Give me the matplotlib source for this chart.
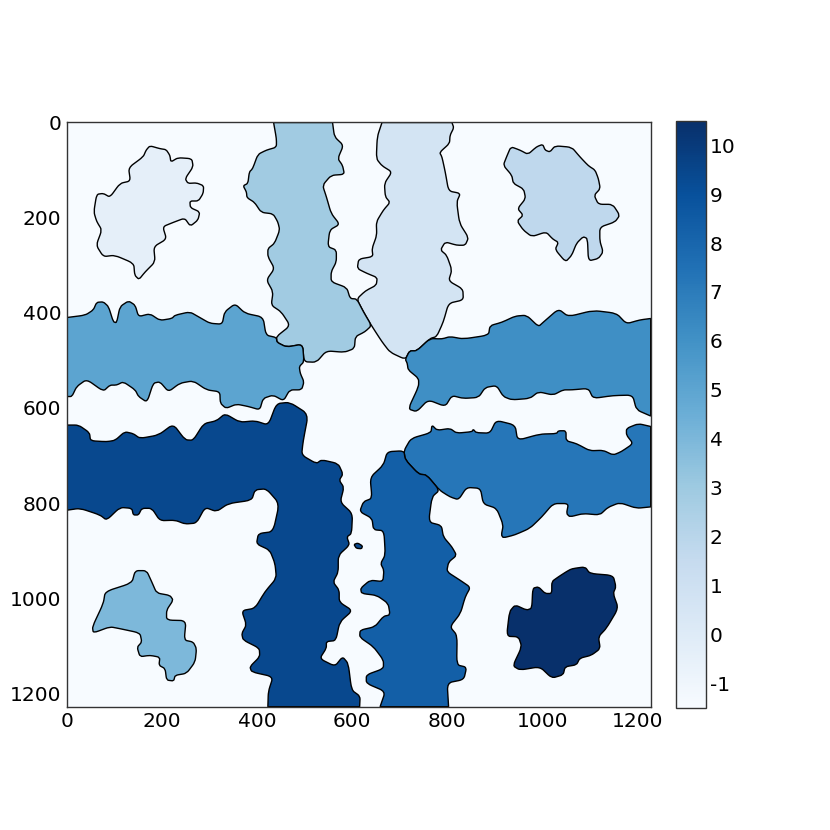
import matplotlib
matplotlib.use('Agg')
import matplotlib.pyplot as plt
from matplotlib.cm import ScalarMappable
from matplotlib.colors import Normalize
from matplotlib.patches import PathPatch
from matplotlib.path import Path

# outlines of the labelled regions (image pixels: x, y)
region_0 = [(175,49),(196,55),(209,57),(217,69),(219,83),(234,74),(263,76),(266,93),(249,118),(255,128),(273,127),(288,133),(287,149),(277,165),(259,165),(260,179),(280,188),(276,205),(260,218),(248,201),(224,210),(202,219),(210,245),(183,261),(186,293),(165,314),(152,330),(143,321),(141,296),(101,279),(77,282),(62,258),(74,226),(63,208),(57,188),(63,151),(77,149),(91,157),(112,128),(134,123),(130,95),(161,72),(167,58)]
region_1 = [(663,0),(653,30),(651,76),(663,91),(684,104),(668,128),(670,156),(680,168),(666,184),(651,209),(652,237),(642,265),(644,282),(614,287),(611,307),(631,317),(653,326),(651,342),(628,354),(610,371),(624,398),(641,427),(663,461),(680,483),(712,498),(721,480),(736,480),(764,454),(778,450),(792,419),(803,380),(834,373),(833,350),(803,333),(810,310),(799,279),(786,268),(796,251),(820,258),(838,258),(845,242),(826,212),(820,167),(828,149),(803,144),(796,104),(789,72),(784,63),(805,44),(806,27),(814,11),(810,0)]
region_2 = [(934,51),(953,58),(970,67),(988,51),(1001,46),(1006,58),(1016,62),(1027,49),(1062,52),(1079,72),(1097,91),(1111,100),(1118,118),(1122,139),(1109,153),(1118,172),(1148,172),(1163,195),(1153,209),(1121,220),(1121,249),(1128,272),(1118,286),(1097,291),(1095,244),(1086,240),(1072,254),(1062,279),(1049,293),(1027,267),(1034,252),(1022,245),(1008,230),(978,240),(960,226),(947,207),(960,195),(948,181),(965,160),(961,140),(939,128),(936,111),(918,90),(925,72)]
region_3 = [(435,0),(441,34),(441,52),(420,58),(402,67),(391,97),(384,104),(381,128),(371,133),(378,146),(379,158),(395,168),(409,189),(434,192),(444,209),(448,226),(437,254),(423,265),(423,282),(437,307),(420,331),(434,356),(430,384),(451,398),(470,427),(441,450),(442,462),(462,472),(496,466),(499,503),(525,504),(546,480),(584,483),(605,475),(607,450),(627,440),(641,427),(624,398),(610,371),(596,370),(589,347),(556,335),(556,314),(567,293),(567,268),(549,261),(553,226),(574,214),(556,191),(546,156),(538,132),(556,111),(584,109),(580,90),(570,76),(582,48),(563,30),(559,0)]
region_4 = [(144,942),(168,942),(179,966),(189,989),(217,994),(224,1004),(210,1025),(210,1046),(251,1047),(247,1088),(266,1092),(273,1106),(270,1134),(252,1158),(228,1162),(225,1174),(210,1172),(207,1148),(194,1141),(196,1124),(175,1120),(154,1123),(148,1103),(158,1092),(154,1073),(112,1064),(91,1060),(56,1073),(54,1060),(77,1011),(81,986),(137,968)]
region_5 = [(0,410),(39,405),(56,394),(63,378),(77,377),(88,387),(98,419),(105,421),(112,387),(130,375),(144,384),(151,408),(175,402),(196,416),(221,412),(228,405),(259,398),(280,410),(301,422),(327,424),(332,398),(354,381),(375,401),(413,409),(419,447),(441,452),(442,462),(462,472),(496,466),(499,503),(489,513),(491,527),(499,545),(494,562),(469,562),(456,585),(434,573),(413,580),(406,604),(382,597),(357,592),(335,601),(323,590),(322,566),(294,562),(266,543),(238,548),(214,566),(196,545),(182,548),(169,588),(151,576),(144,562),(119,545),(105,552),(91,552),(77,565),(42,540),(21,555),(11,576),(0,576)]
region_6 = [(712,498),(721,480),(736,480),(764,454),(789,455),(806,450),(834,455),(887,447),(890,427),(915,420),(943,407),(967,405),(992,429),(1003,419),(1034,392),(1055,408),(1107,395),(1156,401),(1177,423),(1205,415),(1228,412),(1228,617),(1198,604),(1190,573),(1149,574),(1107,580),(1097,559),(1062,562),(1044,562),(1023,573),(992,566),(974,580),(936,583),(918,576),(904,553),(880,557),(866,578),(834,580),(810,574),(796,597),(760,583),(736,608),(718,602),(740,555),(740,538),(718,520),(716,506)]
region_7 = [(709,690),(724,664),(766,652),(768,636),(779,647),(806,643),(820,653),(852,650),(855,645),(861,652),(890,653),(903,626),(943,636),(948,668),(995,655),(1030,654),(1034,648),(1050,648),(1050,669),(1072,675),(1100,690),(1128,689),(1149,699),(1166,692),(1191,675),(1177,657),(1177,643),(1202,633),(1228,639),(1228,808),(1198,811),(1163,799),(1138,809),(1121,825),(1086,822),(1058,829),(1051,822),(1055,801),(1023,801),(999,829),(974,853),(942,867),(918,873),(914,867),(918,846),(904,811),(876,802),(870,769),(841,767),(824,793),(806,787),(784,773),(757,741),(740,739),(712,709)]
region_8 = [(674,692),(709,690),(712,709),(740,739),(757,741),(784,773),(768,787),(761,840),(788,847),(792,871),(810,892),(820,910),(803,924),(799,944),(827,962),(849,977),(838,997),(828,1032),(806,1060),(821,1078),(820,1140),(841,1145),(835,1171),(800,1178),(803,1228),(659,1228),(670,1196),(630,1179),(630,1161),(666,1148),(666,1130),(645,1102),(616,1082),(617,1067),(648,1060),(666,1038),(680,1035),(676,1011),(652,994),(620,990),(618,979),(638,962),(665,965),(667,941),(660,927),(670,909),(667,858),(645,856),(642,832),(616,818),(624,797),(642,790),(638,746),(666,720)]
region_9 = [(0,636),(25,636),(48,652),(50,669),(84,671),(102,668),(122,650),(140,654),(154,664),(193,657),(224,634),(249,667),(266,668),(288,633),(315,627),(333,612),(364,630),(396,627),(424,636),(441,591),(469,588),(508,613),(497,671),(494,699),(525,717),(536,709),(571,717),(581,739),(573,752),(583,767),(575,798),(601,822),(599,864),(589,871),(595,888),(571,910),(571,945),(560,966),(573,983),(573,1008),(601,1026),(574,1050),(566,1089),(546,1091),(546,1105),(532,1127),(564,1143),(580,1123),(592,1137),(599,1193),(617,1206),(616,1228),(423,1228),(424,1196),(434,1165),(389,1155),(385,1144),(406,1123),(405,1105),(371,1088),(368,1074),(378,1056),(368,1026),(396,1021),(417,986),(441,958),(438,927),(427,899),(399,886),(403,864),(434,860),(447,801),(420,770),(396,772),(389,794),(340,801),(315,818),(291,809),(273,842),(249,844),(228,836),(196,837),(179,811),(158,811),(151,825),(140,825),(137,811),(112,809),(84,836),(70,825),(28,811),(0,815)]
region_9b = [(604,887),(612,884),(622,890),(620,896),(609,895)]
region_10 = [(1051,944),(1062,938),(1090,934),(1100,948),(1149,952),(1155,976),(1149,990),(1160,1021),(1135,1063),(1118,1081),(1122,1106),(1103,1120),(1079,1126),(1072,1140),(1048,1144),(1044,1161),(1020,1168),(995,1144),(953,1151),(938,1142),(957,1102),(950,1081),(925,1080),(931,1028),(943,1014),(967,1025),(978,1021),(980,979),(992,976),(1006,990),(1020,990),(1020,965),(1034,955)]

regions = [region_0, region_1, region_2, region_3, region_4, region_5, region_6,
           region_7, region_8, region_9, region_9b, region_10]
labels = [0, 1, 2, 3, 4, 5, 6, 7, 8, 9, 9, 10]
background_label = -1
image_size = 1228
axis_ticks = [0, 200, 400, 600, 800, 1000, 1200]
bar_ticks = [-1, 0, 1, 2, 3, 4, 5, 6, 7, 8, 9, 10]


def rounded_path(outline, cut=0.3):
    # straight edges with only the corners eased; border points stay sharp
    verts = []
    codes = []
    n = len(outline)
    for i, p in enumerate(outline):
        prev = outline[i - 1]
        nxt = outline[(i + 1) % n]
        a = (p[0] + cut * (prev[0] - p[0]), p[1] + cut * (prev[1] - p[1]))
        b = (p[0] + cut * (nxt[0] - p[0]), p[1] + cut * (nxt[1] - p[1]))
        if p[0] in (0, image_size) or p[1] in (0, image_size):
            verts.append(p)
            codes.append(Path.LINETO)
        else:
            verts += [a, p, b]
            codes += [Path.LINETO, Path.CURVE3, Path.CURVE3]
    codes[0] = Path.MOVETO
    verts.append(verts[0])
    codes.append(Path.CLOSEPOLY)
    return Path(verts, codes)


plt.rcParams['font.size'] = 14.5
plt.rcParams['axes.unicode_minus'] = False
cmap = plt.get_cmap('Blues')
norm = Normalize(-1, 10)

fig = plt.figure(figsize=(8.3, 8.3), dpi=100)
ax = fig.add_axes([66.7/830, 1-706.7/830, 584/830, 584.2/830])
ax.set_facecolor(cmap(norm(background_label)))

for outline, label in zip(regions, labels):
    ax.add_patch(PathPatch(rounded_path(outline), facecolor=cmap(norm(label)),
                           edgecolor='black', linewidth=1.0))

ax.set_xlim(0, image_size)
ax.set_ylim(image_size, 0)
ax.set_xticks(axis_ticks)
ax.set_yticks(axis_ticks)
ax.tick_params(length=0, pad=4)
for spine in ax.spines.values():
    spine.set_color('#333333')
    spine.set_linewidth(1.0)

# colorbar runs half a label past each end
cax = fig.add_axes([676/830, 1-708/830, 29.7/830, 587.3/830])
sm = ScalarMappable(norm=Normalize(-1.5, 10.5), cmap=cmap)
cbar = fig.colorbar(sm, cax=cax, ticks=bar_ticks)
cbar.ax.tick_params(length=0, pad=3)
cbar.outline.set_edgecolor('#333333')
cbar.outline.set_linewidth(1.0)

fig.savefig('out.png', dpi=100)
